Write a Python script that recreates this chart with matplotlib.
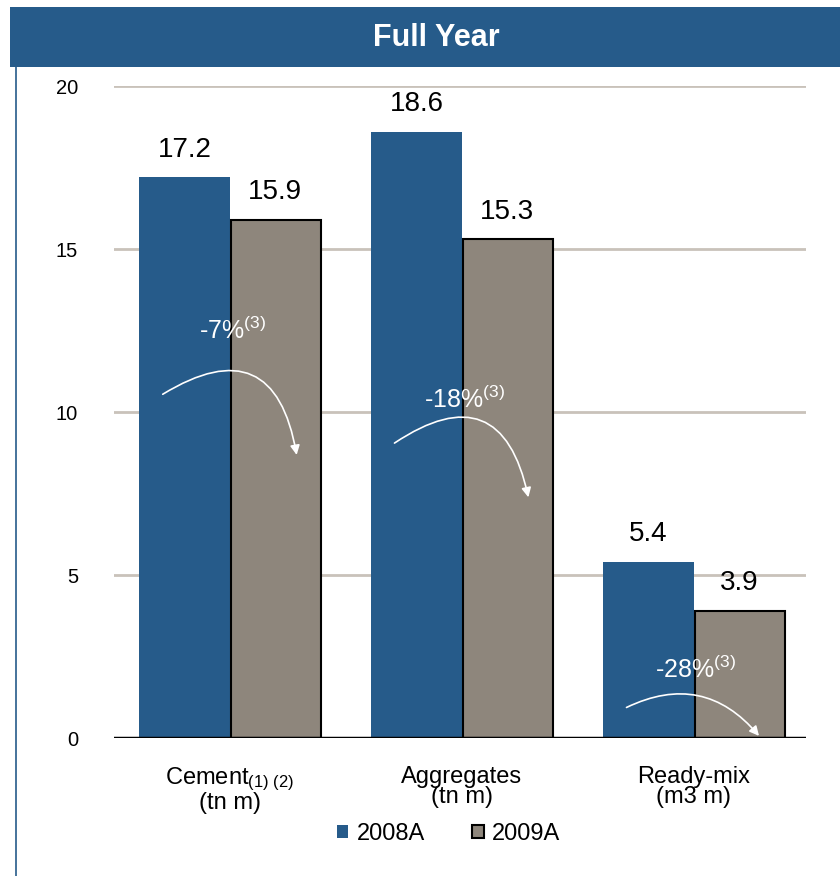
import matplotlib
matplotlib.use("Agg")
from matplotlib import pyplot as plt
from matplotlib.patches import Rectangle, Patch, FancyArrowPatch
import numpy as np

plt.rcParams['font.family'] = ['Liberation Sans', 'DejaVu Sans']
plt.rcParams['mathtext.fontset'] = 'custom'
plt.rcParams['mathtext.rm'] = 'Liberation Sans'
plt.rcParams['mathtext.it'] = 'Liberation Sans'

# volumenes por producto
productos = ['Cement$_{(1)\\ (2)}$\n(tn m)', 'Aggregates\n(tn m)', 'Ready-mix\n(m3 m)']
anios = ['2008A', '2009A']
vol_2008 = [17.2, 18.6, 5.4]
vol_2009 = [15.9, 15.3, 3.9]

# variaciones y donde van las flechas
variaciones = ['-7%', '-18%', '-28%']
texto_y = [12.5, 10.4, 2.1]
flecha_ini_y = [10.5, 9.0, 0.9]
flecha_fin_y = [8.6, 7.3, 0.0]
curvatura = [-0.75, -0.75, -0.4]

azul = '#265B8A'
gris = '#8E867C'

fig = plt.figure(figsize=(8.4, 8.76), dpi=100)
fig.patch.set_facecolor('white')

# banda del titulo
fig.patches.append(Rectangle((0.012, 0.9235), 0.988, 0.068, transform=fig.transFigure,
                             facecolor=azul, edgecolor='none'))
fig.text(0.52, 0.957, 'Full Year', color='white', fontsize=22, fontweight='bold',
         family=['Liberation Sans Narrow', 'Liberation Sans'], ha='center', va='center')
fig.add_artist(plt.Line2D([0.019, 0.019], [0.0, 0.9235], transform=fig.transFigure,
                          color=azul, lw=1.2))

ax = fig.add_axes([0.1357, 0.1575, 0.8238, 0.7443])
x = np.arange(len(productos))
ancho = 0.39

b1 = ax.bar(x - ancho / 2, vol_2008, ancho, color=azul, edgecolor='none', zorder=3)
b2 = ax.bar(x + ancho / 2 + 0.005, vol_2009, ancho, color=gris, edgecolor='black',
            linewidth=1.5, zorder=3)

for i in range(len(productos)):
    ax.text(x[i] - ancho / 2, vol_2008[i] + 0.45, f'{vol_2008[i]:.1f}', ha='center',
            va='bottom', fontsize=20)
    ax.text(x[i] + ancho / 2, vol_2009[i] + 0.45, f'{vol_2009[i]:.1f}', ha='center',
            va='bottom', fontsize=20)
    ax.text(x[i] + 0.01, texto_y[i], variaciones[i] + '$^{(3)}$', color='white',
            ha='center', va='center', fontsize=18, zorder=5)
    flecha = FancyArrowPatch((x[i] - 0.30, flecha_ini_y[i]), (x[i] + 0.29, flecha_fin_y[i]),
                             connectionstyle=f'arc3,rad={curvatura[i]}', arrowstyle='-|>',
                             mutation_scale=14, color='white', lw=1.2, zorder=5,
                             clip_on=False)
    ax.add_patch(flecha)

ax.set_xlim(-0.5, 2.485)
ax.set_ylim(0, 20)
ax.set_yticks([0, 5, 10, 15, 20])
ax.yaxis.grid(True, color='#C9C2BA', lw=2, zorder=0)
ax.axhline(0, color='black', lw=2.5, zorder=4)
for s in ax.spines.values():
    s.set_visible(False)
ax.tick_params(axis='y', length=0, pad=26, labelsize=14.5)
ax.tick_params(axis='x', length=0, pad=20, labelsize=17)
ax.set_xticks(x)
ax.set_xticklabels(productos, linespacing=0.9)
ax.set_facecolor('none')

handles = [Patch(facecolor=azul, edgecolor='none'),
           Patch(facecolor=gris, edgecolor='black', linewidth=1.5)]
fig.legend(handles, anios, loc='center', bbox_to_anchor=(0.534, 0.048), ncol=2,
           frameon=False, fontsize=17, handlelength=0.5, handleheight=0.5,
           handletextpad=0.35, columnspacing=2.0)

fig.savefig('out.png', dpi=100)
